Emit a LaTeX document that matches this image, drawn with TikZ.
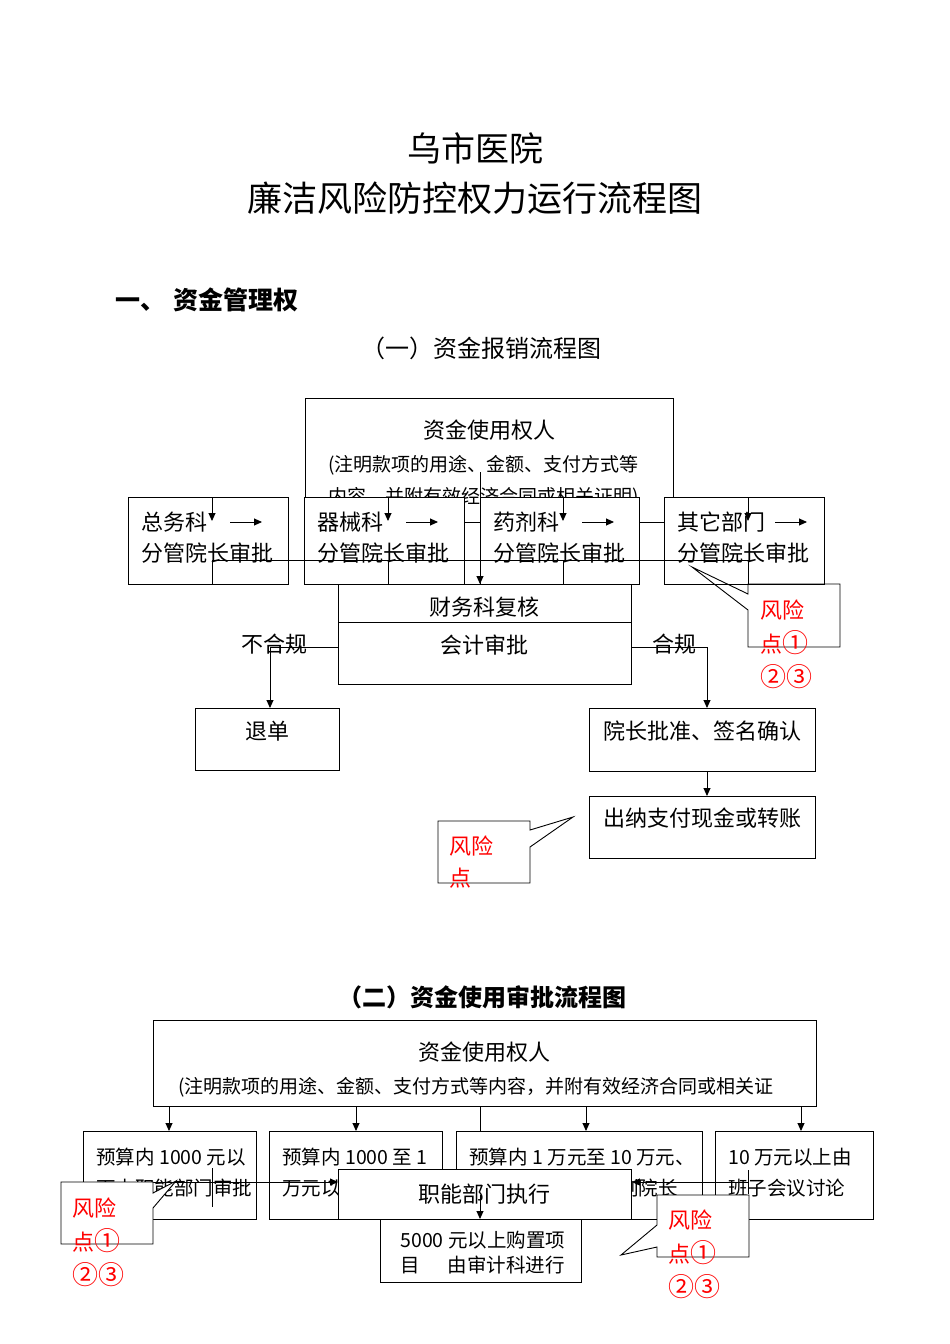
\documentclass[tikz,border=0pt]{standalone}
\usepackage{fontspec}
\setmainfont{Noto Sans CJK SC}
\usetikzlibrary{arrows.meta,positioning,calc}
\newcommand{\circnum}[1]{{\fontsize{26}{34}\selectfont #1}}

\begin{document}
\begin{tikzpicture}[x=1pt,y=-1pt,line width=0.9pt,
    >={Triangle[length=8pt,width=7pt]},
    box/.style={draw,fill=white,rectangle,inner sep=0pt,anchor=north west},
    txt/.style={inner sep=0pt,font=\fontsize{22}{31}\selectfont},
    small/.style={inner sep=0pt,align=left,anchor=west,font=\fontsize{19.5}{31}\selectfont},
    risk/.style={inner sep=0pt,align=left,anchor=west,text=red,font=\fontsize{22}{34}\selectfont}]

    \useasboundingbox (0,0) rectangle (950,1344);

    % titles
    \node[font=\fontsize{34}{40}\selectfont] (t_1) at (475,148) {乌市医院};
    \node[font=\fontsize{35}{40}\selectfont] (t_2) at (475,198) {廉洁风险防控权力运行流程图};
    \node[anchor=west,font=\bfseries\fontsize{25}{30}\selectfont] (h_1) at (112,300) {一、\hspace{8pt}资金管理权};
    \node[font=\fontsize{24}{30}\selectfont] (h_2) at (481,348) {（一）资金报销流程图};

    % (一) reimbursement
    \node[box,minimum width=368pt,minimum height=124pt] (zj) at (305,398) {};
    \node[txt] (zj_a) at ($(zj.north)+(0,32)$) {资金使用权人};
    \node[inner sep=0pt,align=left,anchor=west,font=\fontsize{19}{32}\selectfont] (zj_b) at ($(zj.north west)+(23,83)$)
        {(注明款项的用途、金额、支付方式等\\内容，并附有效经济合同或相关证明)};

    \node[box,minimum width=160pt,minimum height=87pt] (k_1) at (128,497) {};
    \node[box,minimum width=160pt,minimum height=87pt] (k_2) at (304,497) {};
    \node[box,minimum width=159pt,minimum height=87pt] (k_3) at (480,497) {};
    \node[box,minimum width=160pt,minimum height=87pt] (k_4) at (664,497) {};
    \node[txt,align=left,anchor=west] (k_1t) at ($(k_1.north west)+(13,40.5)$) {总务科\\分管院长审批};
    \node[txt,align=left,anchor=west] (k_2t) at ($(k_2.north west)+(13,40.5)$) {器械科\\分管院长审批};
    \node[txt,align=left,anchor=west] (k_3t) at ($(k_3.north west)+(13,40.5)$) {药剂科\\分管院长审批};
    \node[txt,align=left,anchor=west] (k_4t) at ($(k_4.north west)+(13,40.5)$) {其它部门\\分管院长审批};

    \draw[->] ($(k_1.north west)+(102,25)$) -- ++(32,0);
    \draw[->] ($(k_2.north west)+(102,25)$) -- ++(32,0);
    \draw[->] ($(k_3.north west)+(102,25)$) -- ++(32,0);
    \draw[->] ($(k_4.north west)+(111,25)$) -- ++(32,0);

    \draw[->] ($(k_1.north west)+(84,0)$) -- ++(0,24);
    \draw[->] ($(k_2.north west)+(84,0)$) -- ++(0,24);
    \draw[->] ($(k_3.north west)+(83,0)$) -- ++(0,24);
    \draw[->] ($(k_4.north west)+(84,0)$) -- ++(0,24);

    \draw ($(k_1.north west)+(84,63)$) -- ($(k_4.north west)+(84,63)$);
    \draw ($(k_1.north west)+(84,63)$) -- ($(k_1.south west)+(84,0)$);
    \draw ($(k_2.north west)+(84,63)$) -- ($(k_2.south west)+(84,0)$);
    \draw ($(k_3.north west)+(83,63)$) -- ($(k_3.south west)+(83,0)$);
    \draw ($(k_4.north west)+(84,63)$) -- ($(k_4.south west)+(84,0)$);

    \node[box,minimum width=293pt,minimum height=100pt] (cw) at (338,584) {};
    \draw ($(cw.north west)+(0,38)$) -- ($(cw.north east)+(0,38)$);
    \node[txt] (cw_a) at ($(cw.north)+(0,23)$) {财务科复核};
    \node[txt] (cw_b) at ($(cw.north)+(0,61)$) {会计审批};

    \coordinate (zj_o) at (480,472);
    \draw[->] (zj_o) -- (zj_o |- cw.north);

    \node[box,minimum width=144pt,minimum height=62pt] (td) at (195,708) {};
    \node[txt] (td_t) at ($(td.north)+(0,23)$) {退单};
    \node[box,minimum width=226pt,minimum height=63pt] (yz) at (589,708) {};
    \node[txt] (yz_t) at ($(yz.north)+(0,23)$) {院长批准、签名确认};
    \node[box,minimum width=226pt,minimum height=62pt] (cn) at (589,796) {};
    \node[txt] (cn_t) at ($(cn.north)+(0,22)$) {出纳支付现金或转账};

    \node[txt] (bh) at (274,644) {不合规};
    \node[txt] (hg) at (674,644) {合规};
    \draw[->] ($(cw.north west)+(0,63)$) -| ($(td.north west)+(75,0)$);
    \draw[->] ($(cw.north east)+(0,63)$) -| ($(yz.north west)+(118,0)$);
    \draw[->] ($(yz.south west)+(118,0)$) -- ($(cn.north west)+(118,0)$);

    % risk notes
    \coordinate (fx_1) at (748,584);
    \draw ($(fx_1)+(0,10)$) -- (fx_1) -- ++(92,0) -- ++(0,63) -- ++(-92,0) -- ($(fx_1)+(0,26)$)
        -- ($(fx_1)+(-56,-17)$) -- cycle;
    \node[risk] (fx_1t) at ($(fx_1)+(12,60)$) {风险\\点\circnum{①}\\\circnum{②③}};

    \coordinate (fx_2) at (438,821);
    \draw[fill=white] (fx_2) -- ++(92,0) -- ++(0,9) -- ($(fx_2)+(135,-4)$) -- ($(fx_2)+(92,26)$)
        -- ($(fx_2)+(92,62)$) -- ($(fx_2)+(0,62)$) -- cycle;
    \node[risk,font=\fontsize{22}{32}\selectfont] (fx_2t) at ($(fx_2)+(11,41)$) {风险\\点};

    % (二) approval
    \node[font=\bfseries\fontsize{24}{30}\selectfont] (h_3) at (482,997) {（二）资金使用审批流程图};

    \node[box,minimum width=663pt,minimum height=86pt] (sq) at (153,1020) {};
    \node[txt] (sq_a) at ($(sq.north)+(0,32)$) {资金使用权人};
    \node[inner sep=0pt,anchor=west,font=\fontsize{19}{30}\selectfont] (sq_b) at ($(sq.north west)+(25,67)$)
        {(注明款项的用途、金额、支付方式等内容，并附有效经济合同或相关证};

    \node[box,minimum width=173pt,minimum height=88pt] (y_1) at (83,1131) {};
    \node[box,minimum width=173pt,minimum height=88pt] (y_2) at (269,1131) {};
    \node[box,minimum width=246pt,minimum height=88pt] (y_3) at (456,1131) {};
    \node[box,minimum width=158pt,minimum height=88pt] (y_4) at (715,1131) {};
    \node[small] (y_1t) at ($(y_1.north west)+(13,41.5)$) {预算内 1000 元以\\下由职能部门审批};
    \node[small] (y_2t) at ($(y_2.north west)+(13,41.5)$) {预算内 1000 至 1\\万元以下};
    \node[small] (y_3t) at ($(y_3.north west)+(13,41.5)$) {预算内 1 万元至 10 万元、\\\hspace{150pt}副院长};
    \node[small] (y_4t) at ($(y_4.north west)+(13,41.5)$) {10 万元以上由\\班子会议讨论};

    \coordinate (y_1a) at ($(y_1.north west)+(86,0)$);
    \coordinate (y_2a) at ($(y_2.north west)+(87,0)$);
    \coordinate (y_3a) at ($(y_3.north west)+(130,0)$);
    \coordinate (y_3b) at ($(y_3.north west)+(24,0)$);
    \coordinate (y_4a) at ($(y_4.north west)+(86,0)$);
    \draw[->] (y_1a |- sq.south) -- (y_1a);
    \draw[->] (y_2a |- sq.south) -- (y_2a);
    \draw[->] (y_3a |- sq.south) -- (y_3a);
    \draw[->] (y_4a |- sq.south) -- (y_4a);
    \draw (y_3b |- sq.south) -- (y_3b);

    \coordinate (y_1c) at ($(y_1.north west)+(129,37)$);
    \coordinate (y_1d) at ($(y_1.north west)+(70,51)$);
    \coordinate (y_4c) at ($(y_4.north west)+(33,39)$);
    \coordinate (y_4d) at ($(y_4.north west)+(33,51)$);
    \draw (y_1c) -- ++(0,39);
    \draw (y_4c) -- ++(0,24);

    \node[box,minimum width=293pt,minimum height=50pt,font=\fontsize{22}{26}\selectfont] (zn) at (338,1169) {职能部门执行};
    \draw[->] (y_1d) -- (y_1d -| zn.west);
    \draw[->] (y_4d) -- (y_4d -| zn.east);

    \node[box,minimum width=201pt,minimum height=63pt] (sj) at (380,1219) {};
    \node[small,font=\fontsize{19.5}{25}\selectfont] (sj_t) at ($(sj.north west)+(20,33.5)$)
        {5000 元以上购置项\\目\hspace{28pt}由审计科进行};
    \coordinate (zn_o) at ($(zn.north west)+(142,26)$);
    \draw[->] (zn_o) -- (zn_o |- sj.north);

    \coordinate (fx_3) at (61,1182);
    \draw[fill=white] (fx_3) -- ++(92,0) -- ++(0,11) -- ($(fx_3)+(115,-1)$) -- ($(fx_3)+(92,26)$)
        -- ($(fx_3)+(92,62)$) -- ($(fx_3)+(0,62)$) -- cycle;
    \node[risk] (fx_3t) at ($(fx_3)+(11,60)$) {风险\\点\circnum{①}\\\circnum{②③}};

    \coordinate (fx_4) at (657,1195);
    \draw[fill=white] (fx_4) -- ++(92,0) -- ++(0,62) -- ++(-92,0) -- ($(fx_4)+(0,52)$)
        -- ($(fx_4)+(-36,60)$) -- ($(fx_4)+(0,30)$) -- cycle;
    \node[risk] (fx_4t) at ($(fx_4)+(11,59)$) {风险\\点\circnum{①}\\\circnum{②③}};

\end{tikzpicture}
\end{document}
